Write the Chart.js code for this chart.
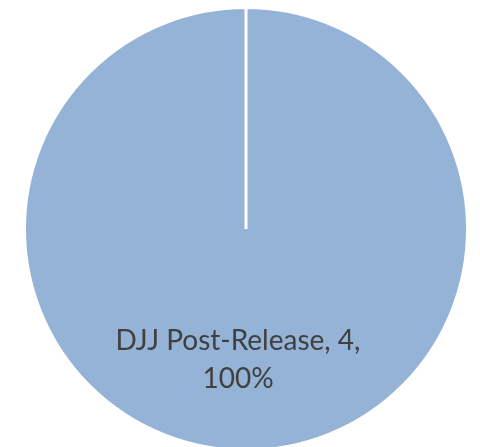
<!DOCTYPE html>
<html>
<head>
<meta charset="utf-8">
<script src="https://cdn.jsdelivr.net/npm/chart.js@4"></script>
<style>
 html,body{margin:0;padding:0;background:#fff;overflow:hidden;}
 #wrap{width:480px;height:452px;}
</style>
</head>
<body>
<div id="wrap"><canvas id="pieChart"></canvas></div>
<script>
const categories=['DJJ Post-Release'];
const counts=[4];
const colors=['#95b3d7'];

// label drawn inside the slice, like the original data label
const sliceLabels={
 id:'sliceLabels',
 afterDatasetsDraw(chart){
  const ctx=chart.ctx;
  const meta=chart.getDatasetMeta(0);
  const total=counts.reduce((a,b)=>a+b,0);
  meta.data.forEach((arc,i)=>{
   const p=arc.getProps(['x','y','startAngle','endAngle','outerRadius']);
   const mid=(p.startAngle+p.endAngle)/2;
   const r=p.outerRadius*0.59;
   const x=p.x+Math.cos(mid)*r-8;
   const y=p.y+Math.sin(mid)*r;
   const pct=Math.round(counts[i]/total*100)+'%';
   ctx.save();
   ctx.fillStyle='#404040';
   ctx.font='28px Lato';
   ctx.textAlign='center';
   ctx.textBaseline='alphabetic';
   ctx.fillText(categories[i]+', '+counts[i]+',',x,y-10);
   ctx.fillText(pct,x,y+28);
   ctx.restore();
  });
 }
};

new Chart(document.getElementById('pieChart'),{
 type:'pie',
 data:{
  labels:categories,
  datasets:[{data:counts,backgroundColor:colors,borderColor:'#ffffff',borderWidth:3}]
 },
 options:{
  responsive:true,
  maintainAspectRatio:false,
  animation:false,
  layout:{padding:{left:23,right:11,top:6,bottom:0}},
  plugins:{legend:{display:false},tooltip:{enabled:false}}
 },
 plugins:[sliceLabels]
});
</script>
</body>
</html>
